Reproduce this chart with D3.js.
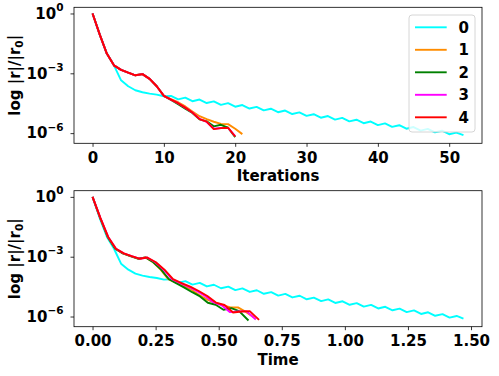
<!DOCTYPE html>
<meta charset="utf-8">
<title>Residual history</title>
<style>
body { margin: 0; background: #fff; }
svg { font-family: "DejaVu Sans", sans-serif; font-weight: bold; }
.axis path, .axis line { stroke: #000; stroke-width: 0.8px; }
.axis text { font-size: 15px; fill: #000; font-family: "DejaVu Sans", sans-serif; font-weight: bold; }
.lines path { fill: none; stroke-width: 1.9px; stroke-linejoin: round; }
</style>
<body>
<script src="https://d3js.org/d3.v7.min.js"></script>
<script>

var names = ["0", "1", "2", "3", "4"];
var colors = ["#00ffff", "#ff8c00", "#008000", "#ff00ff", "#ff0000"];

// log10 of |r|/|r0| per iteration
var logRes0 = [0, -1.05, -2.01, -2.6, -3.35, -3.65, -3.85, -3.95, -4.02, -4.07, -4.15,
  -4.131, -4.307, -4.223, -4.399, -4.315, -4.491, -4.407, -4.583, -4.499, -4.675,
  -4.591, -4.767, -4.683, -4.859, -4.775, -4.951, -4.867, -5.043, -4.959, -5.135,
  -5.051, -5.227, -5.143, -5.319, -5.235, -5.411, -5.327, -5.503, -5.419, -5.595,
  -5.511, -5.687, -5.603, -5.779, -5.695, -5.871, -5.787, -5.963, -5.879, -6.055,
  -5.971, -6.1];
var logRes1 = [0, -1.05, -2.01, -2.6, -2.83, -2.97, -3.1, -3.04, -3.28, -3.65, -4.13,
  -4.3, -4.45, -4.66, -4.92, -5.15, -5.3, -5.43, -5.54, -5.55, -5.78, -6.05];
var logRes2 = [0, -1.05, -2.01, -2.6, -2.83, -2.97, -3.1, -3.04, -3.28, -3.65, -4.13,
  -4.34, -4.55, -4.78, -4.99, -5.31, -5.41, -5.66, -5.58, -5.73, -6.2];
var logRes3 = [0, -1.05, -2.01, -2.6, -2.83, -2.97, -3.1, -3.04, -3.28, -3.65, -4.13,
  -4.32, -4.5, -4.72, -4.97, -5.28, -5.44, -5.78, -5.74, -5.74, -6.15];
var logRes4 = [0, -1.05, -2.01, -2.6, -2.83, -2.97, -3.1, -3.04, -3.28, -3.65, -4.13,
  -4.32, -4.5, -4.72, -4.97, -5.3, -5.42, -5.8, -5.75, -5.73, -6.17];

// elapsed time per iteration
var time0 = [0, .028, .057, .085, .113, .142, .170, .198, .226, .255, .283, .311, .340,
  .368, .396, .425, .453, .481, .509, .538, .566, .594, .623, .651, .679, .708, .736,
  .764, .792, .821, .849, .877, .906, .934, .962, .991, 1.019, 1.047, 1.075, 1.104,
  1.132, 1.160, 1.189, 1.217, 1.245, 1.274, 1.302, 1.330, 1.358, 1.387, 1.415, 1.443, 1.47];
var time1 = [0, .030, .060, .090, .120, .150, .180, .210, .240, .270, .300, .330, .361,
  .392, .423, .454, .485, .516, .547, .578, .609, .640];
var time2 = [0, .030, .060, .090, .120, .150, .180, .210, .241, .272, .303, .333, .364,
  .395, .426, .457, .488, .519, .550, .581, .618];
var time3 = [0, .031, .062, .093, .124, .155, .186, .216, .249, .282, .315, .348, .380,
  .413, .446, .479, .512, .545, .578, .611, .647];
var time4 = [0, .031, .062, .093, .124, .155, .186, .217, .251, .285, .319, .353, .387,
  .421, .455, .489, .523, .557, .590, .623, .660];

var iterTicks = [0, 10, 20, 30, 40, 50];
var timeTicks = [0, 0.25, 0.5, 0.75, 1.0, 1.25, 1.5];
var resTicks = [1, 1e-3, 1e-6];
var resTickExp = ["0", "\u22123", "\u22126"];

var width = 499, height = 376;
var left = 74, right = 482;

var logRes = [logRes0, logRes1, logRes2, logRes3, logRes4];
var times = [time0, time1, time2, time3, time4];

var svg = d3.select("body").append("svg")
    .attr("width", width)
    .attr("height", height);

// matplotlib-like 5% margins
function pad(ext) {
  var r = ext[1] - ext[0];
  return [ext[0] - 0.05 * r, ext[1] + 0.05 * r];
}

var logExt = pad(d3.extent(d3.merge(logRes)));

function panel(top, bottom, xValues, xTicks, xFormat, xLabel, labelY) {
  var g = svg.append("g");

  var xExt = pad([d3.min(xValues, function(a) { return d3.min(a); }),
                  d3.max(xValues, function(a) { return d3.max(a); })]);
  var x = d3.scaleLinear().domain(xExt).range([left, right]);
  var y = d3.scaleLog()
      .domain([Math.pow(10, logExt[0]), Math.pow(10, logExt[1])])
      .range([bottom, top]);

  var line = d3.line()
      .x(function(d) { return x(d[0]); })
      .y(function(d) { return y(Math.pow(10, d[1])); });

  g.append("g")
      .attr("class", "lines")
    .selectAll("path")
      .data(names)
    .enter().append("path")
      .attr("stroke", function(d, i) { return colors[i]; })
      .attr("d", function(d, i) {
        return line(logRes[i].map(function(v, k) { return [xValues[i][k], v]; }));
      });

  // frame
  g.append("rect")
      .attr("x", left).attr("y", top)
      .attr("width", right - left).attr("height", bottom - top)
      .attr("fill", "none").attr("stroke", "#000").attr("stroke-width", 0.8);

  var xa = g.append("g")
      .attr("class", "axis")
      .attr("transform", "translate(0," + bottom + ")")
      .call(d3.axisBottom(x).tickValues(xTicks).tickFormat(xFormat)
        .tickSize(3.5).tickPadding(5.5).tickSizeOuter(0));
  xa.select(".domain").remove();

  var ya = g.append("g")
      .attr("class", "axis")
      .attr("transform", "translate(" + left + ",0)")
      .call(d3.axisLeft(y).tickValues(resTicks).tickFormat(function() { return ""; })
        .tickSize(3.5).tickPadding(3.5).tickSizeOuter(0));
  ya.select(".domain").remove();
  ya.selectAll(".tick text").each(function(d, i) {
    var t = d3.select(this);
    t.append("tspan").text("10").attr("dy", "0.32em");
    t.append("tspan").text(resTickExp[i])
        .style("font-size", "10.5px")
        .attr("dy", "-0.75em");
  });
  ya.selectAll(".tick text").attr("dy", null).attr("x", -10.5);

  g.append("text")
      .attr("x", (left + right) / 2)
      .attr("y", labelY)
      .attr("text-anchor", "middle")
      .style("font-size", "15px")
      .text(xLabel);

  var yl = g.append("text")
      .attr("transform", "translate(20," + (top + bottom) / 2 + ") rotate(-90)")
      .attr("text-anchor", "middle")
      .style("font-size", "15px");
  yl.append("tspan").text("log |r|/|r");
  yl.append("tspan").text("0").style("font-size", "10.5px").attr("dy", "0.3em");
  yl.append("tspan").text("|").attr("dy", "-0.3em");

  return g;
}

var iterValues = logRes.map(function(a) { return a.map(function(v, k) { return k; }); });

panel(7.3, 143.3, iterValues, iterTicks, d3.format("d"), "Iterations", 180.7);
panel(190.7, 326.7, times, timeTicks, d3.format(".2f"), "Time", 365);

// legend
var legend = svg.append("g").attr("transform", "translate(409,15)");
legend.append("rect")
    .attr("width", 66).attr("height", 117).attr("rx", 3)
    .attr("fill", "rgba(255,255,255,0.8)")
    .attr("stroke", "#cccccc").attr("stroke-width", 0.8);
var item = legend.selectAll(".item")
    .data(names)
  .enter().append("g")
    .attr("class", "item")
    .attr("transform", function(d, i) { return "translate(0," + (12.3 + i * 22.5) + ")"; });
item.append("line")
    .attr("x1", 6).attr("x2", 37.7)
    .attr("stroke", function(d, i) { return colors[i]; })
    .attr("stroke-width", 1.9);
item.append("text")
    .attr("x", 49.5).attr("y", 5.5)
    .style("font-size", "15px")
    .text(function(d) { return d; });

</script>
